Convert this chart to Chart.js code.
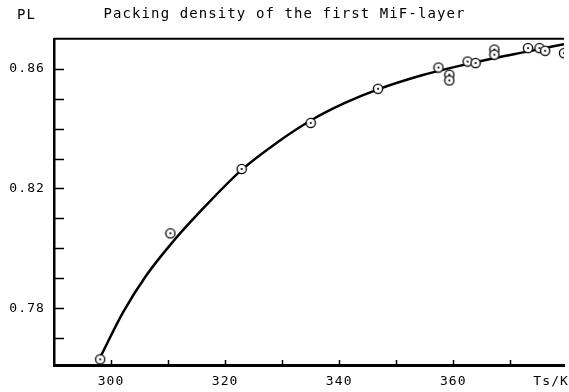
<!DOCTYPE html>
<html>
<head>
<meta charset="utf-8">
<script src="https://cdn.jsdelivr.net/npm/chart.js@4.4.0/dist/chart.umd.min.js"></script>
<style>
  html, body { margin: 0; padding: 0; background: #fff; }
  #wrap { width: 569px; height: 392px; }
</style>
</head>
<body>
<div id="wrap"><canvas id="packingChart" width="569" height="392"></canvas></div>
<script>
// measured points (substrate temperature / packing density)
const tempPoints = [298.1, 310.4, 322.9, 335.0, 346.8, 357.4, 359.3, 359.3, 362.5, 363.9, 367.2, 367.2, 373.1, 375.1, 376.1, 379.4];
const densityPoints = [0.7629, 0.8050, 0.8265, 0.8419, 0.8533, 0.8604, 0.8580, 0.8561, 0.8624, 0.8619, 0.8664, 0.8647, 0.8669, 0.8669, 0.8660, 0.8652];

// fitted curve
const tempCurve = [298.1, 302.1, 306.2, 310.8, 315.4, 322.9, 329.3, 335.0, 340.8, 346.8, 354.5, 360.5, 367.3, 373.2, 379.4];
const densityCurve = [0.7636, 0.7786, 0.7910, 0.8021, 0.8118, 0.8262, 0.8356, 0.8427, 0.8484, 0.8531, 0.8578, 0.8607, 0.8636, 0.8658, 0.8682];

const yTickLabels = [0.78, 0.82, 0.86];
const xTickLabels = [300, 320, 340, 360];

const ink = '#000';
const plotFont = '"DejaVu Sans Mono", monospace';

// circle with a dot, like the plotter marker
function ringMarker() {
    const c = document.createElement('canvas');
    c.width = 12; c.height = 12;
    const g = c.getContext('2d');
    g.fillStyle = '#fff';
    g.strokeStyle = ink;
    g.lineWidth = 1.3;
    g.beginPath();
    g.arc(6, 6, 4.6, 0, Math.PI * 2);
    g.fill();
    g.stroke();
    g.fillStyle = ink;
    g.beginPath();
    g.arc(6, 6, 1.1, 0, Math.PI * 2);
    g.fill();
    return c;
}

// inward ticks, top border and the loose labels
const plotterMarks = {
    id: 'plotterMarks',
    beforeDraw(chart) {
        chart.ctx.letterSpacing = '1.1px';
    },
    afterDraw(chart) {
        const ctx = chart.ctx;
        const area = chart.chartArea;
        const xs = chart.scales.x;
        const ys = chart.scales.y;
        ctx.save();
        ctx.strokeStyle = ink;
        ctx.lineWidth = 1.5;
        ctx.beginPath();
        ys.ticks.forEach(t => {
            if (t.value <= ys.min + 1e-6 || t.value >= ys.max - 1e-6) return;
            const py = Math.round(ys.getPixelForValue(t.value)) + 0.5;
            ctx.moveTo(area.left, py);
            ctx.lineTo(area.left + 10, py);
        });
        xs.ticks.forEach(t => {
            if (t.value <= xs.min + 1e-6 || t.value >= xs.max - 1e-6) return;
            const px = Math.round(xs.getPixelForValue(t.value)) + 0.5;
            ctx.moveTo(px, area.bottom);
            ctx.lineTo(px, area.bottom - 5);
        });
        ctx.stroke();

        ctx.lineWidth = 2;
        ctx.beginPath();
        ctx.moveTo(area.left, area.top);
        ctx.lineTo(area.right, area.top);
        ctx.stroke();

        ctx.fillStyle = ink;
        ctx.font = '14px ' + plotFont;
        ctx.textBaseline = 'middle';
        ctx.textAlign = 'left';
        ctx.fillText('PL', 17, 15);
        ctx.font = '13px ' + plotFont;
        ctx.textAlign = 'right';
        ctx.fillText('Ts/K', chart.width, area.bottom + 17);
        ctx.restore();
    }
};

const ctx = document.getElementById('packingChart').getContext('2d');
new Chart(ctx, {
    type: 'scatter',
    data: {
        datasets: [{
            label: 'measured',
            data: tempPoints.map((t, i) => ({ x: t, y: densityPoints[i] })),
            pointStyle: ringMarker(),
            showLine: false
        }, {
            label: 'fit',
            data: tempCurve.map((t, i) => ({ x: t, y: densityCurve[i] })),
            showLine: true,
            borderColor: ink,
            borderWidth: 2.5,
            pointRadius: 0,
            cubicInterpolationMode: 'monotone'
        }]
    },
    options: {
        responsive: false,
        animation: false,
        events: [],
        layout: { padding: 0 },
        plugins: {
            legend: { display: false },
            tooltip: { enabled: false },
            title: {
                display: true,
                text: 'Packing density of the first MiF-layer',
                color: ink,
                font: { family: plotFont, size: 14, weight: 'normal' },
                padding: { top: 6, bottom: 16 }
            }
        },
        scales: {
            x: {
                type: 'linear',
                min: 290,
                max: 379.4,
                afterFit: s => { s.height = 27; },
                grid: { display: false, drawTicks: false },
                border: { display: true, color: ink, width: 3 },
                ticks: {
                    stepSize: 10,
                    includeBounds: false,
                    autoSkip: false,
                    maxRotation: 0,
                    padding: 9,
                    color: ink,
                    font: { family: plotFont, size: 13 },
                    callback: v => xTickLabels.includes(Math.round(v)) ? String(Math.round(v)) : ''
                }
            },
            y: {
                type: 'linear',
                min: 0.761,
                max: 0.87,
                afterFit: s => { s.width = 54; },
                grid: { display: false, drawTicks: false },
                border: { display: true, color: ink, width: 2.5 },
                ticks: {
                    stepSize: 0.01,
                    includeBounds: false,
                    autoSkip: false,
                    padding: 9,
                    color: ink,
                    font: { family: plotFont, size: 13 },
                    callback: v => {
                        const r = Math.round(v * 100) / 100;
                        return yTickLabels.includes(r) ? r.toFixed(2) : '';
                    }
                }
            }
        }
    },
    plugins: [plotterMarks]
});
</script>
</body>
</html>
